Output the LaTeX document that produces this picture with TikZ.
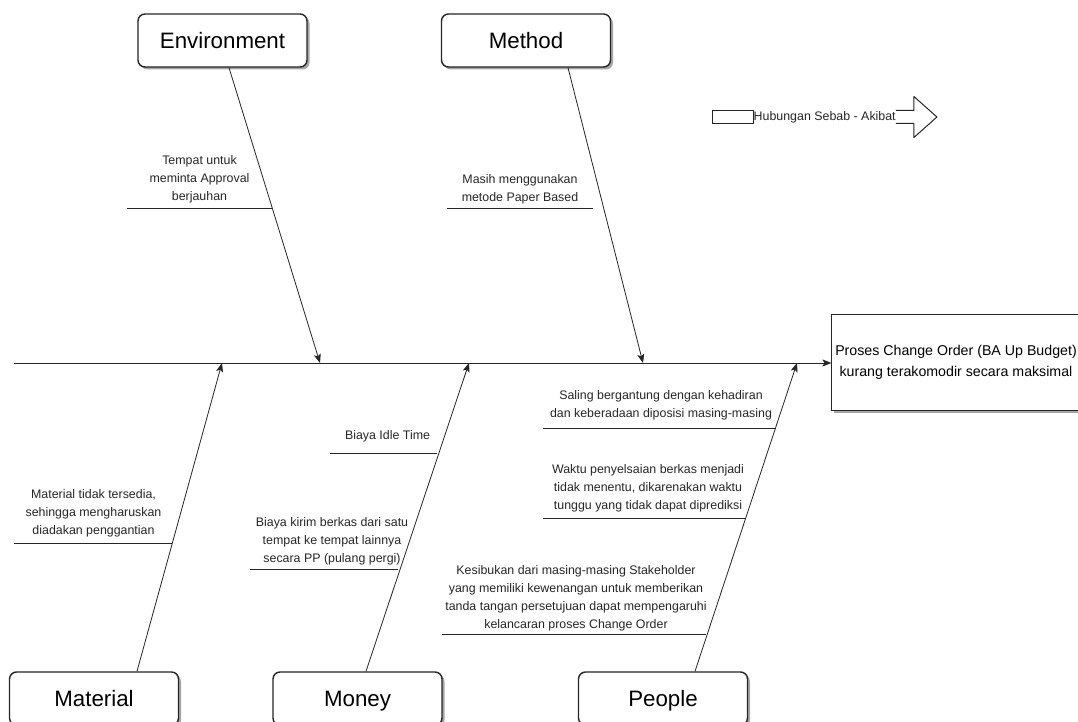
\documentclass[tikz,border=0pt]{standalone}
\usepackage{fontspec}
\setmainfont{Liberation Sans}
\usetikzlibrary{arrows.meta,shadows}

\begin{document}
\begin{tikzpicture}[
  x=1pt, y=-1pt,
  font=\fontsize{12.4}{18}\selectfont,
  shade/.style={drop shadow={shadow xshift=2.5pt, shadow yshift=-2.5pt, opacity=.35, fill=black}},
  cat/.style={draw=black!85, line width=1.4pt, rounded corners=7pt, fill=white, shade, minimum width=169pt, minimum height=53pt, text height=20pt, text depth=4pt, font=\fontsize{22.3}{26}\selectfont},
  effbox/.style={draw=black!85, line width=1pt, fill=white, shade, align=center, minimum width=242pt, minimum height=96pt, font=\fontsize{14.2}{21}\selectfont},
  cause/.style={align=center, anchor=south, inner sep=0pt, text depth=4pt, text=black!85},
  bone/.style={draw=black!85, line width=0.8pt, -{Stealth[length=9pt, width=7pt, inset=2pt]}},
  sub/.style={draw=black!85, line width=0.8pt}
]
\path[use as bounding box, fill=white] (0,0) rectangle (1078,722);

% categories
\node[cat] (env)  at (222.5,40.5)  {Environment};
\node[cat] (meth) at (526,40.5)    {Method};
\node[cat] (mat)  at (94,698.5)    {Material};
\node[cat] (mon)  at (357.5,698.5) {Money};
\node[cat] (ppl)  at (663,698.5)   {People};

% effect
\node[effbox] (eff) at (956,362) {Proses Change Order (BA Up Budget)\\kurang terakomodir secara maksimal};

% spine
\coordinate (tail) at (14,363);
\draw[bone] (tail) -- (tail -| eff.west);

\coordinate (envhit)  at (320,363);
\coordinate (methhit) at (643,363);
\coordinate (mathit)  at (222,363);
\coordinate (monhit)  at (469,363);
\coordinate (pplhit)  at (797,363);

% bones
\draw[bone] ([xshift=6.5pt]env.south) -- (envhit);
\draw[bone] ([xshift=42pt]meth.south) -- (methhit);
\draw[bone] ([xshift=43pt]mat.north) -- (mathit);
\draw[bone] ([xshift=8.5pt]mon.north) -- (monhit);
\draw[bone] ([xshift=32pt]ppl.north) -- (pplhit);

% causes
\node[cause] (c-env)    at (199.5,205)   {Tempat untuk\\meminta Approval\\berjauhan};
\node[cause] (c-meth)   at (520,206)     {Masih menggunakan\\metode Paper Based};
\node[cause] (c-mat)    at (93.5,538.5)  {Material tidak tersedia,\\sehingga mengharuskan\\diadakan penggantian};
\node[cause] (c-idle)   at (387.5,444)   {Biaya Idle Time};
\node[cause] (c-kirim)  at (332,566.5)   {Biaya kirim berkas dari satu\\tempat ke tempat lainnya\\secara PP (pulang pergi)};
\node[cause] (c-saling) at (661,421.5)   {Saling bergantung dengan kehadiran\\dan keberadaan diposisi masing-masing};
\node[cause] (c-waktu)  at (648,513.5)   {Waktu penyelsaian berkas menjadi\\tidak menentu, dikarenakan waktu\\tunggu yang tidak dapat diprediksi};
\node[cause] (c-sibuk)  at (576,632.5)   {Kesibukan dari masing-masing Stakeholder\\yang memiliki kewenangan untuk memberikan\\tanda tangan persetujuan dapat mempengaruhi\\kelancaran proses Change Order};

% underlines
\foreach \xa/\xb/\yy in {127/272/208, 447/593/208, 14/172/543, 330/437/453,
                         250/398/569, 543/776/428, 543/745/518, 442/706/634}
  \draw[sub] (\xa,\yy) -- (\xb,\yy);

% legend
\node[draw=black!85, line width=1pt, inner sep=0pt, minimum width=41pt, minimum height=13pt] (legbar) at (732.5,117.5) {};
\node[anchor=west, inner sep=0pt, text=black!85, font=\fontsize{12.4}{14}\selectfont] (legtxt) at (legbar.east) {Hubungan Sebab - Akibat};
\draw[draw=black!85, line width=1pt, line join=round]
  (legtxt.east |- legbar.north) -- ++(18,0) -- ++(0,-14) -- ++(23,20.5)
  -- ++(-23,20.5) -- ++(0,-14) -- ++(-18,0);
\end{tikzpicture}
\end{document}
